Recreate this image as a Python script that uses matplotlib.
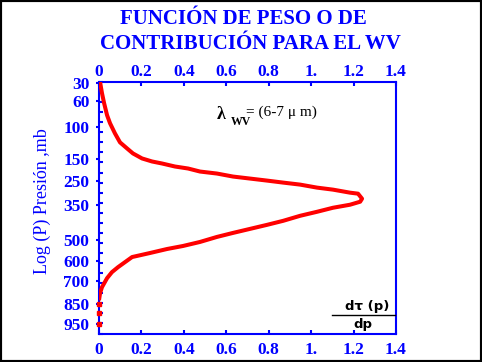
import matplotlib
matplotlib.use("Agg")
import matplotlib.pyplot as plt
from matplotlib.patches import Rectangle
import numpy as np

# ---- data ----
# vertical coordinate: level index (0 = top of axis, 25 = bottom), weighting function value dT/dp
level = [0.0, 1.1, 2.1, 3.3, 4.1, 5.1, 6.0, 6.6, 7.1, 7.6, 7.9, 8.1, 8.4, 8.6,
         8.9, 9.1, 9.4, 9.6, 9.8, 10.0, 10.2, 10.5, 10.7, 11.0, 11.1, 11.6,
         11.9, 12.2, 12.5, 12.9, 13.3, 13.8, 14.2, 14.6, 15.0, 15.4, 15.9,
         16.3, 16.6, 17.0, 17.4, 17.9, 18.4, 18.9, 19.5, 20.4, 21.0, 21.7]
weight = [0.005, 0.014, 0.024, 0.038, 0.052, 0.075, 0.099, 0.132, 0.160, 0.203,
          0.250, 0.297, 0.358, 0.420, 0.476, 0.556, 0.632, 0.712, 0.792, 0.868,
          0.948, 1.028, 1.103, 1.183, 1.221, 1.240, 1.231, 1.183, 1.103, 1.028,
          0.948, 0.868, 0.792, 0.712, 0.632, 0.556, 0.476, 0.396, 0.321, 0.240,
          0.156, 0.123, 0.090, 0.061, 0.038, 0.014, 0.005, 0.0]
dot_level = [22.1, 23.0, 24.1]
dot_weight = [0.0, 0.0, 0.0]

ytick_pos = [0.1, 1.9, 4.5, 7.7, 9.8, 12.2, 15.7, 17.8, 19.8, 22.1, 24.1]
ytick_lab = ["30", "60", "100", "150", "250", "350", "500", "600", "700", "850", "950"]
xtick_pos = [0, 0.2, 0.4, 0.6, 0.8, 1.0, 1.2, 1.4]
xtick_lab = ["0", "0.2", "0.4", "0.6", "0.8", "1.", "1.2", "1.4"]

W, H = 482, 362
fig = plt.figure(figsize=(W / 100, H / 100), dpi=100)
fig.patch.set_facecolor("white")

def fx(px):
    return px / W

def fy(py):
    return 1 - py / H

ax = fig.add_axes([fx(99), fy(333.5), fx(396) - fx(99), fy(82) - fy(333.5)])
blue = "#0000ff"
serif = ["Liberation Serif", "DejaVu Serif"]

ax.plot(weight, level, color="#ff0000", lw=2.9, solid_capstyle="butt", zorder=3)
ax.plot(dot_weight, dot_level, ls="none", marker="s", ms=3, color="#ff0000", zorder=3, clip_on=False)

ax.set_xlim(0, 1.4)
ax.set_ylim(25, 0)

for s in ax.spines.values():
    s.set_color(blue)
    s.set_linewidth(1.5)

ax.set_xticks(xtick_pos)
ax.set_xticklabels(xtick_lab)
ax.tick_params(axis="x", which="major", direction="in", length=3, width=1.5, color=blue,
               top=True, labeltop=False, bottom=True, labelbottom=True, labelcolor=blue,
               labelsize=12.5, pad=6)
for lab in ax.get_xticklabels():
    lab.set_fontfamily(serif)
    lab.set_fontweight("bold")

top = ax.secondary_xaxis("top")
top.set_xticks(xtick_pos)
top.set_xticklabels(xtick_lab)
top.tick_params(axis="x", direction="in", length=0, labelcolor=blue, labelsize=12.5, pad=1.5)
top.spines["top"].set_visible(False)
for lab in top.get_xticklabels():
    lab.set_fontfamily(serif)
    lab.set_fontweight("bold")

ax.set_yticks(ytick_pos)
ax.set_yticklabels(ytick_lab)
ax.set_yticks(np.arange(0, 26, 1), minor=True)
ax.tick_params(axis="y", which="major", direction="out", length=2, width=1.5, color=blue,
               labelcolor=blue, labelsize=12.5, pad=5, right=False)
ax.tick_params(axis="y", which="minor", direction="in", length=3, width=1.5, color=blue, right=False)
for lab in ax.get_yticklabels():
    lab.set_fontfamily(serif)
    lab.set_fontweight("bold")

# title
fig.text(fx(243), fy(24), "FUNCIÓN DE PESO O DE", color=blue, fontsize=15, fontweight="bold",
         family=serif, ha="center", va="baseline")
fig.text(fx(250), fy(49), "CONTRIBUCIÓN PARA EL WV", color=blue, fontsize=15, fontweight="bold",
         family=serif, ha="center", va="baseline")

# y label
fig.text(fx(42), fy(201), "Log (P) Presión ,mb", color=blue, fontsize=13, family=serif,
         rotation=90, ha="center", va="center")

# lambda annotation
fig.text(fx(217), fy(119), "λ", color="black", fontsize=13, fontweight="bold", family=serif,
         ha="left", va="baseline")
fig.text(fx(231), fy(125), "WV", color="black", fontsize=8.5, fontweight="bold", family=serif,
         ha="left", va="baseline")
fig.text(fx(246), fy(116), "= (6-7 μ m)", color="black", fontsize=11, family=serif,
         ha="left", va="baseline")

# dT/dp label
fig.text(fx(367), fy(310), "dτ (p)", color="black", fontsize=9.5, fontweight="bold",
         family=["DejaVu Sans"], ha="center", va="baseline")
fig.add_artist(plt.Line2D([fx(332), fx(395)], [fy(315), fy(315)], color="black", lw=1))
fig.text(fx(363), fy(328), "dp", color="black", fontsize=9.5, fontweight="bold",
         family=["DejaVu Sans"], ha="center", va="baseline")

# black frame around figure
fig.add_artist(Rectangle((0, 0), 1, 1, transform=fig.transFigure, fill=False,
                         edgecolor="black", lw=3, clip_on=False))

fig.savefig("out.png", dpi=100, facecolor="white")
